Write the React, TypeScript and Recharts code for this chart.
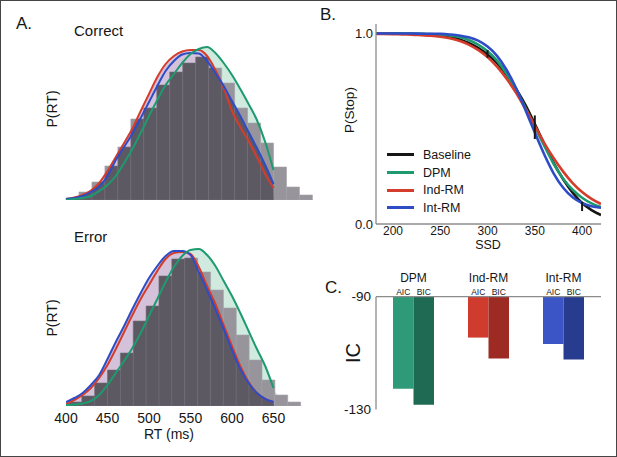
import React from "react";
import {
  Area,
  Bar,
  Cell,
  ComposedChart,
  ErrorBar,
  Legend,
  Line,
  Scatter,
  XAxis,
  YAxis,
} from "recharts";

const FONT = '"Liberation Sans", Arial, Helvetica, sans-serif';
const INK = "#161616";
const AXIS_GRAY = "#8c8c8c";
const GREEN = "#1d9a6e";
const RED = "#d43d2c";
const BLUE = "#2e4cc6";
const BLACK = "#161616";
const BAR_DARK = "#5d5963";

// ---- A: RT distributions (heights in plot units) ----
const rtTicks = [400, 450, 500, 550, 600, 650];
const curveT = [400, 410, 420, 430, 440, 450, 460, 470, 480, 490, 500, 510, 520, 530, 540, 550, 560, 570, 580, 590, 600, 610, 620, 630, 640, 650];
const tailT = [660, 670, 680, 690];

const correctHist = [2, 8, 18, 34, 53, 81, 92, 115, 128, 137, 143, 132, 117, 92, 77, 57, 33, 13, 5];
const correctRed = [1, 2.5, 5, 9.5, 17, 29, 43, 57, 71.5, 89, 106, 123, 136, 144, 148.5, 150, 150, 144, 130, 112, 89, 73, 59, 43, 26, 12];
const correctBlue = [1, 2, 4, 8, 13.5, 24, 40, 53, 66.5, 82, 98, 114, 129, 139, 145.5, 147, 146.5, 139, 127, 114, 99, 84, 68, 52, 35, 16];
const correctGreen = [0, 1, 2, 4, 9, 15, 24, 37, 51, 67, 84, 100, 115, 126, 137, 146, 151, 153, 147, 137, 125, 111, 96, 80, 58, 30];
const correctGreenTail = [12, 4, 1, 0];

const errorHist = [4, 10, 23, 36, 53, 85, 100, 130, 147, 148, 134, 116, 98, 71, 46, 26, 11, 4];
const errorRed = [2, 6, 11, 18, 28, 41, 57, 74, 91, 107, 121, 135, 147, 153, 154, 152, 139, 120, 102, 81, 60, 40, 24, 13, 7, 4];
const errorBlue = [4, 8, 13, 21, 31, 47, 64, 80, 97, 113, 128, 140, 150, 155, 155, 151, 134, 116, 97, 77, 56, 37, 23, 13, 7, 4];
const errorGreen = [1, 1.5, 2.5, 5, 11, 21, 33, 45, 58, 73, 90, 107, 124, 139, 150, 156, 157, 151, 140, 125, 110, 93, 75, 57, 40, 18];
const errorGreenTail = [6, 2, 0, 0];

// ---- B: inhibition functions ----
const ssd = [182, 190, 200, 210, 220, 230, 240, 250, 260, 270, 280, 290, 300, 310, 320, 330, 340, 350, 360, 370, 380, 390, 400, 410, 420];
const pBaseline = [1, 1, 1, 0.999, 0.998, 0.997, 0.995, 0.99, 0.983, 0.97, 0.95, 0.925, 0.89, 0.845, 0.785, 0.71, 0.625, 0.525, 0.42, 0.32, 0.235, 0.165, 0.11, 0.073, 0.047];
const pDPM = [1, 1, 1, 1, 0.999, 0.998, 0.997, 0.994, 0.99, 0.982, 0.966, 0.942, 0.907, 0.858, 0.79, 0.705, 0.61, 0.51, 0.41, 0.315, 0.238, 0.18, 0.138, 0.108, 0.088];
const pIndRM = [0.998, 0.998, 0.997, 0.995, 0.994, 0.991, 0.988, 0.983, 0.975, 0.962, 0.942, 0.914, 0.876, 0.826, 0.764, 0.69, 0.605, 0.515, 0.425, 0.345, 0.275, 0.215, 0.168, 0.132, 0.105];
const pIntRM = [1, 1, 1, 1, 1, 0.999, 0.999, 0.998, 0.995, 0.99, 0.98, 0.963, 0.932, 0.883, 0.81, 0.715, 0.6, 0.48, 0.365, 0.265, 0.19, 0.14, 0.11, 0.093, 0.085];
const obsSsd = [300, 350, 400];
const obsP = [0.893, 0.508, 0.092];
const obsErr = [0.02, 0.062, 0.024];

// ---- C: information criteria ----
const models = ["DPM", "Ind-RM", "Int-RM"];
const aicVals = [-122.6, -104.5, -106.8];
const bicVals = [-128.3, -111.9, -112.3];
const aicColors = ["#2f9a77", "#cf3b2c", "#3b55c6"];
const bicColors = ["#1f6a52", "#9e2b23", "#273b8f"];

const RT_DOMAIN = [400, 700];

function RtPanel(props: {
  top: number;
  height: number;
  marginTop: number;
  marginBottom: number;
  axisHeight: number;
  yMax: number;
  hist: number[];
  binStart: number;
  binWidth: number;
  red: number[];
  blue: number[];
  green: number[];
  greenTail: number[];
  showTicks: boolean;
}) {
  const { yMax, red, blue, green } = props;
  const width = 330;
  const left = 66;
  const right = 15;
  const pxPerMs = (width - left - right) / (RT_DOMAIN[1] - RT_DOMAIN[0]);
  const binEnd = props.binStart + props.binWidth * props.hist.length;
  const padL = (props.binStart - RT_DOMAIN[0]) * pxPerMs;
  const padR = (RT_DOMAIN[1] - binEnd) * pxPerMs;

  const histRows = props.hist.map((h, i) => ({ bin: i, h }));
  const lineRows = curveT.map((t, i) => ({ t, red: red[i], blue: blue[i], green: green[i] }));
  const greenRows = [
    ...curveT.map((t, i) => ({ t, g: green[i] })),
    ...tailT.map((t, i) => ({ t, g: props.greenTail[i] })),
  ];
  // the histogram shows dark only under the red/blue fits; above them it is veiled
  const upper = curveT.map((_, i) => Math.max(red[i], blue[i]));
  const purpleRows = curveT.map((t, i) => ({ t, m: upper[i] }));
  const lastT = curveT[curveT.length - 1];
  const veilRows = [
    ...curveT.map((t, i) => ({ t, band: [upper[i], yMax] })),
    { t: lastT + 0.5, band: [0, yMax] },
    { t: RT_DOMAIN[1], band: [0, yMax] },
  ];

  return (
    <div style={{ position: "absolute", left: 0, top: props.top }}>
      <ComposedChart
        width={width}
        height={props.height}
        data={histRows}
        barCategoryGap={0}
        margin={{ top: props.marginTop, right, bottom: props.marginBottom, left }}
      >
        <XAxis
          dataKey="t"
          type="number"
          domain={RT_DOMAIN}
          allowDataOverflow
          ticks={rtTicks}
          hide={!props.showTicks}
          height={props.axisHeight}
          axisLine={false}
          tickLine={false}
          tickSize={0}
          tickMargin={7}
          tick={{ fontSize: 14, fill: INK, fontFamily: FONT }}
        />
        <XAxis xAxisId="bins" dataKey="bin" type="category" hide padding={{ left: padL, right: padR }} />
        <YAxis
          type="number"
          domain={[0, yMax]}
          allowDataOverflow
          width={0}
          tick={false}
          tickLine={false}
          axisLine={{ stroke: AXIS_GRAY, strokeWidth: 1.6 }}
        />
        <Area data={greenRows} dataKey="g" type="monotone" stroke="none" fill="#b6dfcd" fillOpacity={1} isAnimationActive={false} />
        <Area data={purpleRows} dataKey="m" type="linear" stroke="none" fill="#d3c2da" fillOpacity={1} isAnimationActive={false} />
        <Bar xAxisId="bins" dataKey="h" fill={BAR_DARK} stroke="#726e78" strokeWidth={0.6} isAnimationActive={false} />
        <Area
          data={veilRows}
          dataKey="band"
          type="linear"
          stroke="none"
          fill="#ffffff"
          fillOpacity={0.36}
          isAnimationActive={false}
          {...({ zIndex: 350 } as any)}
        />
        <Line data={lineRows} dataKey="red" type="monotone" stroke={RED} strokeWidth={2} dot={false} isAnimationActive={false} />
        <Line data={lineRows} dataKey="blue" type="monotone" stroke={BLUE} strokeWidth={2} dot={false} isAnimationActive={false} />
        <Line data={lineRows} dataKey="green" type="monotone" stroke={GREEN} strokeWidth={2} dot={false} isAnimationActive={false} />
      </ComposedChart>
    </div>
  );
}

function StopLegend(props: any) {
  const items = (props.payload || []).filter((p: any) => p.type !== "none");
  return (
    <div style={{ fontFamily: FONT, fontSize: 12.5, color: INK }}>
      {items.map((p: any) => (
        <div key={p.value} style={{ display: "flex", alignItems: "center", height: 17.7 }}>
          <span style={{ display: "inline-block", width: 27, height: 3, background: p.color, marginRight: 9.5 }} />
          <span>{p.value}</span>
        </div>
      ))}
    </div>
  );
}

function StopPanel() {
  const rows = ssd.map((s, i) => ({
    ssd: s,
    baseline: pBaseline[i],
    dpm: pDPM[i],
    ind: pIndRM[i],
    int: pIntRM[i],
  }));
  const obsRows = obsSsd.map((s, i) => ({ ssd: s, p: obsP[i], err: obsErr[i] }));
  const lineProps = { type: "monotone" as const, strokeWidth: 2.6, dot: false, isAnimationActive: false };

  return (
    <div style={{ position: "absolute", left: 330, top: 0 }}>
      <ComposedChart width={287} height={260} data={rows} margin={{ top: 24, right: 16, bottom: 14, left: 0 }}>
        <XAxis
          dataKey="ssd"
          type="number"
          domain={[182, 420]}
          allowDataOverflow
          ticks={[200, 250, 300, 350, 400]}
          height={22}
          axisLine={{ stroke: AXIS_GRAY, strokeWidth: 1.3 }}
          tickLine={false}
          tickSize={0}
          tickMargin={2}
          tick={{ fontSize: 12, fill: INK, fontFamily: FONT }}
        />
        <YAxis
          type="number"
          domain={[0, 1.05]}
          ticks={[0, 1]}
          tickFormatter={(v: number) => v.toFixed(1)}
          width={46}
          axisLine={{ stroke: AXIS_GRAY, strokeWidth: 1.3 }}
          tickLine={false}
          tickSize={0}
          tickMargin={3}
          tick={{ fontSize: 13, fill: INK, fontFamily: FONT }}
        />
        <Line dataKey="baseline" name="Baseline" stroke={BLACK} {...lineProps} />
        <Line dataKey="dpm" name="DPM" stroke={GREEN} {...lineProps} />
        <Line dataKey="ind" name="Ind-RM" stroke={RED} {...lineProps} />
        <Line dataKey="int" name="Int-RM" stroke={BLUE} {...lineProps} />
        <Scatter data={obsRows} dataKey="p" legendType="none" shape={() => <g />} isAnimationActive={false}>
          <ErrorBar dataKey="err" direction="y" width={0} stroke={BLACK} strokeWidth={2} />
        </Scatter>
        <Legend
          content={StopLegend}
          layout="vertical"
          align="center"
          verticalAlign="middle"
          wrapperStyle={{ left: 56.5, top: 146, width: 110 }}
        />
      </ComposedChart>
    </div>
  );
}

function IcTick(props: any) {
  const { x, y, payload } = props;
  const half = 10.25;
  return (
    <g fontFamily={FONT} fill={INK}>
      <text x={x} y={y - 14.5} textAnchor="middle" fontSize={12}>
        {payload.value}
      </text>
      <text x={x - half} y={y - 2} textAnchor="middle" fontSize={8.5}>
        AIC
      </text>
      <text x={x + half} y={y - 2} textAnchor="middle" fontSize={8.5}>
        BIC
      </text>
    </g>
  );
}

function IcPanel() {
  const rows = models.map((m, i) => ({ model: m, aic: aicVals[i], bic: bicVals[i] }));
  return (
    <div style={{ position: "absolute", left: 330, top: 260 }}>
      <ComposedChart width={287} height={190} data={rows} barGap={0} margin={{ top: 0, right: 16, bottom: 40.5, left: 0 }}>
        <XAxis
          dataKey="model"
          orientation="top"
          height={36.7}
          interval={0}
          axisLine={{ stroke: AXIS_GRAY, strokeWidth: 1.3 }}
          tickLine={false}
          tickSize={0}
          tickMargin={0}
          tick={<IcTick />}
        />
        <YAxis
          type="number"
          domain={[-130, -90]}
          ticks={[-130, -90]}
          width={46}
          axisLine={{ stroke: AXIS_GRAY, strokeWidth: 1.3 }}
          tickLine={false}
          tickSize={0}
          tickMargin={5}
          tick={{ fontSize: 13.5, fill: INK, fontFamily: FONT }}
        />
        <Bar dataKey="aic" barSize={20.5} isAnimationActive={false}>
          {rows.map((r, i) => (
            <Cell key={r.model} fill={aicColors[i]} />
          ))}
        </Bar>
        <Bar dataKey="bic" barSize={20.5} isAnimationActive={false}>
          {rows.map((r, i) => (
            <Cell key={r.model} fill={bicColors[i]} />
          ))}
        </Bar>
      </ComposedChart>
    </div>
  );
}

export default function App() {
  return (
    <div
      style={{
        position: "absolute",
        left: 0,
        top: 0,
        width: 617,
        height: 457,
        background: "#fff",
        fontFamily: FONT,
        overflow: "hidden",
      }}
    >
      <RtPanel
        top={0}
        height={215}
        marginTop={25}
        marginBottom={15}
        axisHeight={0}
        yMax={175}
        hist={correctHist}
        binStart={400}
        binWidth={15.625}
        red={correctRed}
        blue={correctBlue}
        green={correctGreen}
        greenTail={correctGreenTail}
        showTicks={false}
      />
      <RtPanel
        top={222}
        height={230}
        marginTop={10}
        marginBottom={16}
        axisHeight={30}
        yMax={174}
        hist={errorHist}
        binStart={403.5}
        binWidth={15.5}
        red={errorRed}
        blue={errorBlue}
        green={errorGreen}
        greenTail={errorGreenTail}
        showTicks
      />
      <StopPanel />
      <IcPanel />

      <svg
        width={617}
        height={457}
        style={{ position: "absolute", left: 0, top: 0, pointerEvents: "none" }}
        fontFamily={FONT}
        fill={INK}
      >
        <text x={16} y={28.5} fontSize={17}>A.</text>
        <text x={74} y={35.5} fontSize={15}>Correct</text>
        <text x={74} y={241.7} fontSize={15}>Error</text>
        <text transform="translate(52,109) rotate(-90)" textAnchor="middle" dy="0.36em" fontSize={14}>P(RT)</text>
        <text transform="translate(52,318) rotate(-90)" textAnchor="middle" dy="0.36em" fontSize={14}>P(RT)</text>
        <text x={169} y={439} textAnchor="middle" fontSize={14}>RT (ms)</text>
        <text x={320} y={20} fontSize={17}>B.</text>
        <text transform="translate(349,110) rotate(-90)" textAnchor="middle" dy="0.36em" fontSize={13.5}>P(Stop)</text>
        <text x={488} y={248.5} textAnchor="middle" fontSize={12.5}>SSD</text>
        <text x={325} y={293} fontSize={17}>C.</text>
        <text transform="translate(353,353) rotate(-90)" textAnchor="middle" dy="0.36em" fontSize={20}>IC</text>
      </svg>
      <div
        style={{
          position: "absolute",
          left: 0,
          top: 0,
          width: 617,
          height: 457,
          boxSizing: "border-box",
          border: "1.5px solid #454545",
          pointerEvents: "none",
        }}
      />
    </div>
  );
}
